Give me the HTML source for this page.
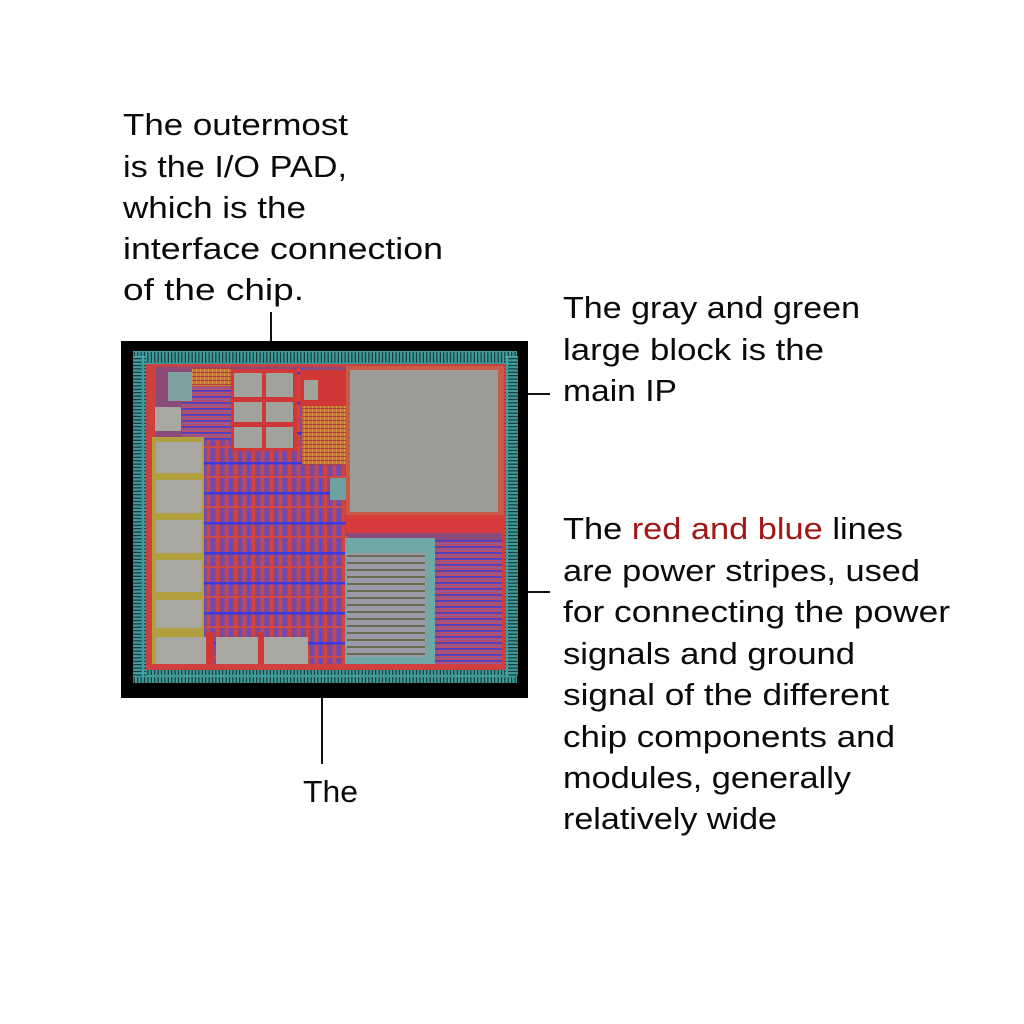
<!DOCTYPE html>
<html><head><meta charset="utf-8"><style>
html,body{margin:0;padding:0;background:#fff;width:1024px;height:1024px;overflow:hidden}
svg{position:absolute;left:0;top:0}
text{font-family:"Liberation Sans",Arial,sans-serif;font-size:31px;fill:#0a0a0a}
</style></head><body>
<svg width="1024" height="1024" viewBox="0 0 1024 1024">
<defs>
<pattern id="padH" width="3.4" height="13" patternUnits="userSpaceOnUse"><rect x="0.6" y="0.6" width="2.2" height="11.8" fill="#102424" stroke="#45a8a8" stroke-width="1.1"/></pattern>
<pattern id="padV" width="13" height="3.4" patternUnits="userSpaceOnUse"><rect x="0.6" y="0.6" width="11.8" height="2.2" fill="#102424" stroke="#45a8a8" stroke-width="1.1"/></pattern>
<pattern id="mesh" width="9" height="30" patternUnits="userSpaceOnUse">
<rect width="9" height="30" fill="#8a4a8a"/><rect x="0" width="3" height="30" fill="#d04444"/><rect x="5" width="1.5" height="30" fill="#5a4ad0"/><rect y="12" width="9" height="2.5" fill="#3a3ae0"/><rect y="26" width="9" height="2" fill="#d04848"/></pattern>
<pattern id="hstr" width="10" height="6" patternUnits="userSpaceOnUse"><rect width="10" height="6" fill="#c04c5c"/><rect y="0" width="10" height="1.8" fill="#4a40c8"/><rect y="3" width="10" height="1.5" fill="#8a5a9a"/></pattern>
<pattern id="gstr" width="10" height="7" patternUnits="userSpaceOnUse"><rect width="10" height="7" fill="#9a9aa8"/><rect y="2" width="10" height="2" fill="#6a6a50"/></pattern>
<pattern id="orng" width="4" height="4" patternUnits="userSpaceOnUse"><rect width="4" height="4" fill="#c87040"/><rect width="1" height="4" fill="#d0a040"/><rect width="4" height="1" fill="#b04040"/></pattern>
</defs>
<rect x="121" y="341" width="407" height="357" fill="#000"/>
<rect x="133" y="351" width="384" height="13" fill="url(#padH)"/>
<rect x="133" y="670" width="384" height="13" fill="url(#padH)"/>
<rect x="133" y="356" width="13" height="320" fill="url(#padV)"/>
<rect x="505" y="356" width="13" height="320" fill="url(#padV)"/>
<rect x="146" y="364" width="359" height="306" fill="#c84040"/>
<rect x="150" y="367" width="352" height="300" fill="#8a4a7a"/>
<rect x="203" y="438" width="145" height="230" fill="url(#mesh)"/>
<rect x="182" y="385" width="52" height="55" fill="url(#hstr)"/>
<rect x="192" y="368" width="40" height="18" fill="url(#orng)"/>
<rect x="295" y="368" width="10" height="72" fill="url(#mesh)"/>
<rect x="302" y="405" width="45" height="60" fill="url(#orng)"/>
<rect x="150" y="367" width="6" height="300" fill="#d04040"/>
<rect x="152" y="437" width="52" height="232" fill="#b0a040"/>
<rect x="168" y="372" width="24" height="29" fill="#7fa0a0"/>
<rect x="155" y="407" width="26" height="24" fill="#a8a8a0"/>
<rect x="156" y="442" width="46" height="31" fill="#a8a8a0"/>
<rect x="156" y="480" width="46" height="33" fill="#a8a8a0"/>
<rect x="156" y="520" width="46" height="33" fill="#a8a8a0"/>
<rect x="156" y="560" width="46" height="32" fill="#a8a8a0"/>
<rect x="156" y="600" width="46" height="28" fill="#a8a8a0"/>
<rect x="156" y="637" width="50" height="31" fill="#a8a8a0"/>
<rect x="206" y="632" width="8" height="37" fill="#d03838"/>
<rect x="258" y="632" width="6" height="37" fill="#d03838"/>
<rect x="216" y="637" width="42" height="31" fill="#a8a8a0"/>
<rect x="264" y="637" width="44" height="31" fill="#a8a8a0"/>
<rect x="231" y="369" width="66" height="82" fill="#d03838"/>
<rect x="234" y="373" width="28" height="24" fill="#a0a29c"/><rect x="266" y="373" width="27" height="24" fill="#a0a29c"/>
<rect x="234" y="402" width="28" height="20" fill="#a0a29c"/><rect x="266" y="402" width="27" height="20" fill="#a0a29c"/>
<rect x="234" y="427" width="28" height="21" fill="#a0a29c"/><rect x="266" y="427" width="27" height="21" fill="#a0a29c"/>
<rect x="300" y="370" width="48" height="36" fill="#d03838"/>
<rect x="304" y="380" width="14" height="20" fill="#a0a29c"/>
<rect x="330" y="478" width="16" height="22" fill="#6fa0a0"/>
<rect x="346" y="366" width="158" height="152" fill="#c85a48"/>
<rect x="350" y="370" width="148" height="142" fill="#9c9c98"/>
<rect x="346" y="515" width="158" height="18" fill="#d83c3c"/>
<rect x="345" y="538" width="90" height="130" fill="#6fa6a6"/>
<rect x="347" y="553" width="78" height="104" fill="url(#gstr)"/>
<rect x="435" y="540" width="67" height="127" fill="url(#hstr)"/>
<rect x="146" y="664" width="359" height="5" fill="#d04040"/>
<line x1="271" y1="312" x2="271" y2="341" stroke="#111" stroke-width="2"/>
<line x1="528" y1="394" x2="550" y2="394" stroke="#111" stroke-width="2"/>
<line x1="528" y1="592" x2="550" y2="592" stroke="#111" stroke-width="2"/>
<line x1="322" y1="698" x2="322" y2="764" stroke="#111" stroke-width="2"/>
<text x="123" y="135" textLength="225" lengthAdjust="spacingAndGlyphs">The outermost</text>
<text x="123" y="177" textLength="224" lengthAdjust="spacingAndGlyphs">is the I/O PAD,</text>
<text x="123" y="218" textLength="183" lengthAdjust="spacingAndGlyphs">which is the</text>
<text x="123" y="259" textLength="320" lengthAdjust="spacingAndGlyphs">interface connection</text>
<text x="123" y="300" textLength="181" lengthAdjust="spacingAndGlyphs">of the chip.</text>
<text x="563" y="318" textLength="297" lengthAdjust="spacingAndGlyphs">The gray and green</text>
<text x="563" y="360" textLength="261" lengthAdjust="spacingAndGlyphs">large block is the</text>
<text x="563" y="401" textLength="114" lengthAdjust="spacingAndGlyphs">main IP</text>
<text x="563" y="539" textLength="340" lengthAdjust="spacingAndGlyphs">The <tspan fill="#a01818">red and blue</tspan> lines</text>
<text x="563" y="581" textLength="357" lengthAdjust="spacingAndGlyphs">are power stripes, used</text>
<text x="563" y="622" textLength="387" lengthAdjust="spacingAndGlyphs">for connecting the power</text>
<text x="563" y="664" textLength="292" lengthAdjust="spacingAndGlyphs">signals and ground</text>
<text x="563" y="705" textLength="326" lengthAdjust="spacingAndGlyphs">signal of the different</text>
<text x="563" y="747" textLength="332" lengthAdjust="spacingAndGlyphs">chip components and</text>
<text x="563" y="788" textLength="288" lengthAdjust="spacingAndGlyphs">modules, generally</text>
<text x="563" y="829" textLength="214" lengthAdjust="spacingAndGlyphs">relatively wide</text>
<text x="303" y="802" textLength="55" lengthAdjust="spacingAndGlyphs">The</text>
</svg>
</body></html>
